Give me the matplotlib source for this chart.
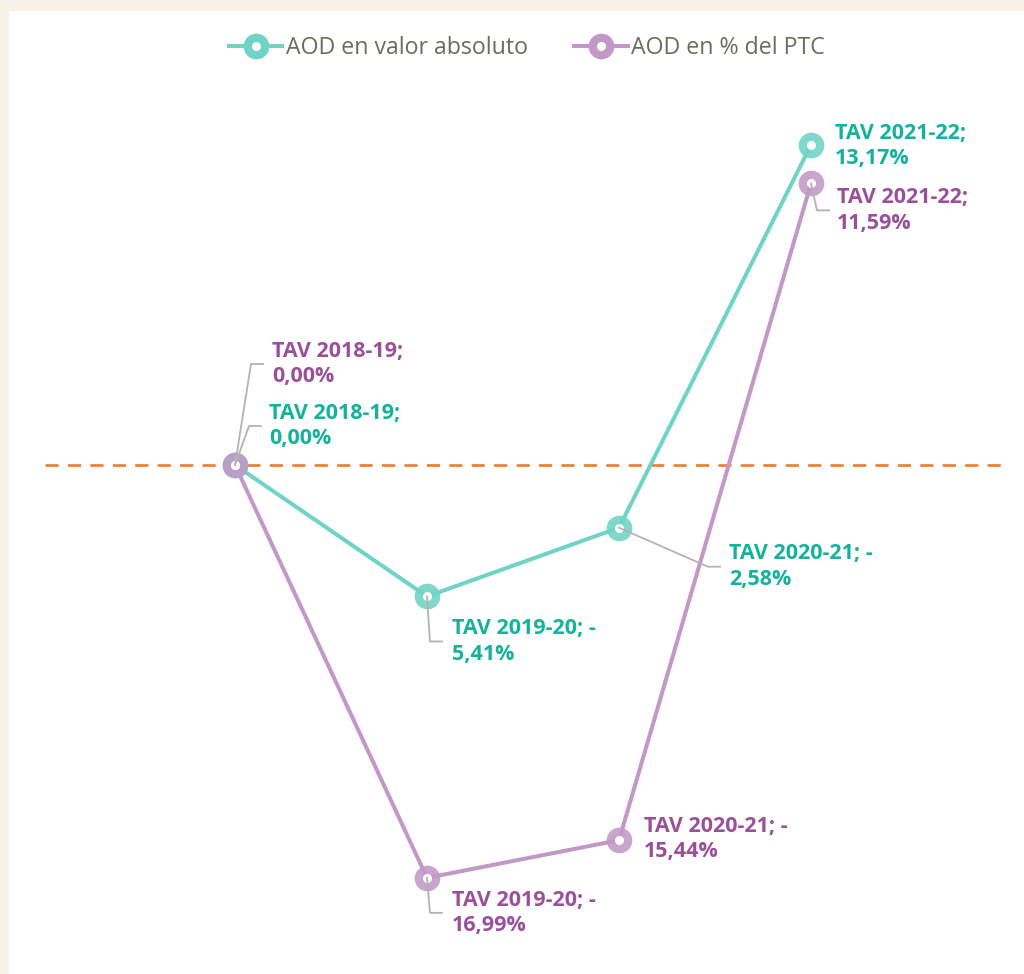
import matplotlib
matplotlib.use('Agg')
import matplotlib.pyplot as plt
from matplotlib.lines import Line2D
from matplotlib.patches import Rectangle
from matplotlib.legend_handler import HandlerTuple
from matplotlib.transforms import IdentityTransform

# datos
periodos = ['TAV 2018-19', 'TAV 2019-20', 'TAV 2020-21', 'TAV 2021-22']
aod_absoluto = [0.00, -5.41, -2.58, 13.17]
aod_ptc = [0.00, -16.99, -15.44, 11.59]
nombres = ['AOD en valor absoluto', 'AOD en % del PTC']

# colores
col_teal_linea = '#6fd3c6'
col_teal_texto = '#13b29b'
col_lila_linea = '#c298c7'
col_lila_texto = '#9b4f9b'
col_guia = '#b3b3b3'

# posicion de etiquetas (px): texto dx, dy, codo de la guia (o None)
pos_teal = [(34, 39, (14, 39)), (25, -45, (3, -45)),
            (110, -39, (89, -39)), (24, -1, None)]
pos_lila = [(37, 101, (16, 101)), (25, -35, (3, -35)),
            (25, 1, None), (26, -27, (6, -27))]


def etiqueta(periodo, v):
    s = f'{abs(v):.2f}'.replace('.', ',')
    if v < 0:
        return f'{periodo}; -\n{s}%'
    return f'{periodo};\n{s}%'


fig = plt.figure(figsize=(10.24, 9.74), dpi=100, facecolor='#f8f2e6')
fig.patches.append(Rectangle((9 / 1024, 0), 1, (974 - 11) / 974,
                             transform=fig.transFigure, facecolor='white',
                             edgecolor='none', zorder=-10))

ax = fig.add_axes([45 / 1024, (974 - 960) / 974, 958 / 1024, 860 / 974])
ax.set_facecolor('none')
ax.set_xlim(-190 / 192, 768 / 192)
ax.set_ylim(-495 / 24.3, 365 / 24.3)
ax.axis('off')

ax.axhline(0, color='#ed7d31', lw=1.9, ls=(0, (5, 3.5)), zorder=1)

x = list(range(len(periodos)))
handles = []
for vals, cl, ct, pos, nombre in [(aod_absoluto, col_teal_linea, col_teal_texto, pos_teal, nombres[0]),
                                   (aod_ptc, col_lila_linea, col_lila_texto, pos_lila, nombres[1])]:
    ax.plot(x, vals, color=cl, lw=2.9, zorder=2, solid_capstyle='round')
    ax.plot(x, vals, ls='none', marker='o', ms=18.5, color=cl, mec='none',
            alpha=0.88, zorder=3)
    ax.plot(x, vals, ls='none', marker='o', ms=6.5, color='white', mec='none', zorder=4)
    h1 = Line2D([], [], color=cl, lw=2.9, marker='o', ms=18.5, mec='none')
    h2 = Line2D([], [], ls='none', marker='o', ms=6.5, color='white', mec='none')
    handles.append(((h1, h2), nombre))

    fig.canvas.draw()
    for xi, v, p, (tdx, tdy, codo) in zip(x, vals, periodos, pos):
        px, py = ax.transData.transform((xi, v))
        if codo is not None:
            bx, by = codo
            ax.add_line(Line2D([px, px + bx, px + bx + 12], [py, py + by, py + by],
                               transform=IdentityTransform(), color=col_guia,
                               lw=1.3, zorder=5))
        ax.annotate(etiqueta(p, v), xy=(xi, v), xytext=(tdx, tdy),
                    textcoords='offset pixels', ha='left', va='center',
                    fontsize=15.5, fontweight='bold', color=ct,
                    family='Open Sans', linespacing=1.28, zorder=6)

leg = fig.legend([h for h, _ in handles], [n for _, n in handles],
                 handler_map={tuple: HandlerTuple(ndivide=1)},
                 loc='center', bbox_to_anchor=(527 / 1024, 1 - 48 / 974),
                 ncol=2, frameon=False, handlelength=2.3, handletextpad=0.15,
                 columnspacing=2.0,
                 prop={'family': 'Open Sans', 'size': 16.7})
for t in leg.get_texts():
    t.set_color('#6b6b60')

fig.savefig('out.png', dpi=100, facecolor=fig.get_facecolor())
